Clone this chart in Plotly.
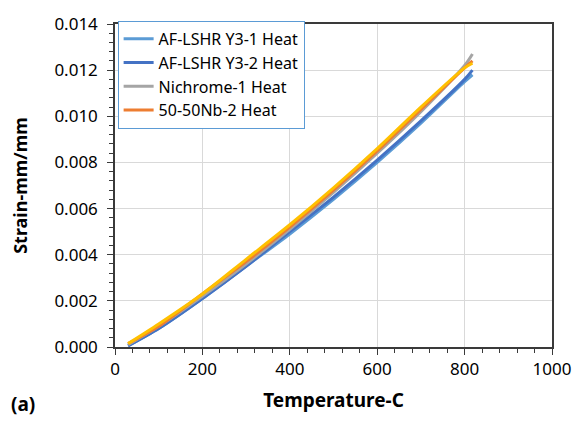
import plotly.graph_objects as go

# Thermal strain vs temperature (heating segment)
temperature = [30, 100, 200, 300, 400, 500, 600, 700, 800, 818]

strain_y3_1 = [0.00005, 0.0008, 0.0021, 0.0035, 0.0049, 0.0064, 0.0080, 0.0097, 0.0115, 0.0118]
strain_y3_2 = [0.00005, 0.0008, 0.0021, 0.0035, 0.0050, 0.0065, 0.0081, 0.0098, 0.0116, 0.0120]
strain_nichrome = [0.0001, 0.0009, 0.0022, 0.0036, 0.0051, 0.0067, 0.0084, 0.0102, 0.0122, 0.0127]
strain_nb_2 = [0.00015, 0.0009, 0.0023, 0.0037, 0.0052, 0.0068, 0.0085, 0.0103, 0.0121, 0.0124]
strain_nb_1 = [0.00015, 0.0010, 0.0023, 0.0038, 0.0053, 0.0069, 0.0086, 0.0104, 0.0121, 0.0123]

series = [
    ("AF-LSHR Y3-1 Heat", strain_y3_1, "#5B9BD5", True),
    ("AF-LSHR Y3-2 Heat", strain_y3_2, "#4472C4", True),
    ("Nichrome-1 Heat", strain_nichrome, "#A5A5A5", True),
    ("50-50Nb-2 Heat", strain_nb_2, "#ED7D31", True),
    ("50-50Nb-1 Heat", strain_nb_1, "#FFC000", False),
]

FONT = "Noto Sans"

fig = go.Figure()
for name, ys, color, show in series:
    fig.add_trace(go.Scatter(
        x=temperature, y=ys, mode="lines", name=name,
        line=dict(color=color, width=3, shape="spline", smoothing=0.8),
        showlegend=show,
    ))

axis_common = dict(
    showline=True, linecolor="#3a3a3a", linewidth=1.5, mirror=True,
    ticks="outside", ticklen=6, tickcolor="#3a3a3a", tickwidth=1.2,
    showgrid=True, gridcolor="#D9D9D9", gridwidth=1,
    zeroline=False,
    tickfont=dict(family=FONT, size=17, color="#000000"),
)

fig.update_xaxes(
    range=[0, 1000], dtick=200, tick0=0,
    minor=dict(ticks="outside", ticklen=4, dtick=40, tickcolor="#3a3a3a", showgrid=False),
    title=dict(text="<b>Temperature-C</b>", font=dict(family=FONT, size=19, color="#000000"), standoff=15),
    **axis_common,
)
fig.update_yaxes(
    range=[0, 0.014], dtick=0.002, tick0=0, tickformat=".3f",
    ticklabelstandoff=6,
    minor=dict(ticks="outside", ticklen=4, dtick=0.0004, tickcolor="#3a3a3a", showgrid=False),
    title=dict(text="<b>Strain-mm/mm</b>", font=dict(family=FONT, size=18, color="#000000"), standoff=22),
    **axis_common,
)

fig.add_annotation(
    text="<b>(a)</b>", xref="paper", yref="paper", x=-0.243, y=-0.178,
    xanchor="left", yanchor="middle", showarrow=False,
    font=dict(family=FONT, size=19, color="#000000"),
)

fig.update_layout(
    width=584, height=421,
    margin=dict(l=115, r=32, t=15, b=74),
    paper_bgcolor="white", plot_bgcolor="white",
    legend=dict(
        x=0.006, y=1.01, xanchor="left", yanchor="top",
        bgcolor="white", bordercolor="#5B9BD5", borderwidth=1,
        font=dict(family=FONT, size=16, color="#000000"),
        tracegroupgap=0, itemwidth=30,
    ),
)

fig.write_html("out.html")
